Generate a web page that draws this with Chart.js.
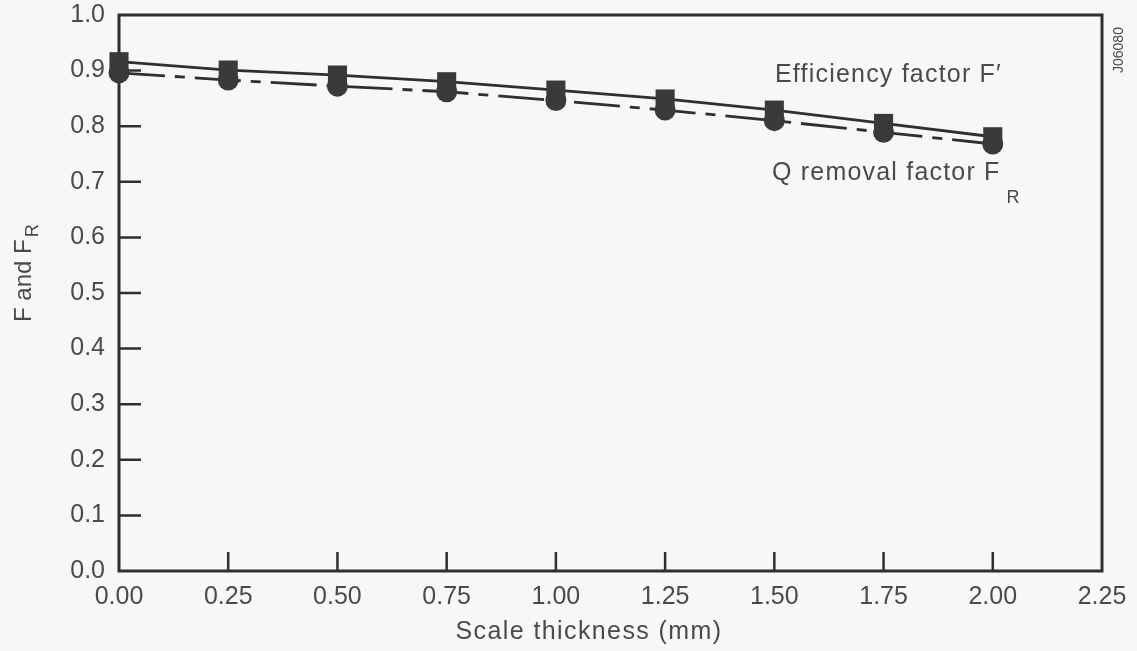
<!DOCTYPE html>
<html>
<head>
<meta charset="utf-8">
<script src="https://cdn.jsdelivr.net/npm/chart.js@4/dist/chart.umd.min.js"></script>
<style>
    html, body { margin: 0; padding: 0; background: #f7f7f5; }
    #wrap { width: 1137px; height: 651px; }
</style>
</head>
<body>
<div id="wrap"><canvas id="scaleChart" width="1137" height="651"></canvas></div>
<script>
// scale thickness (mm) and the two factors
const thickness = [0.00, 0.25, 0.50, 0.75, 1.00, 1.25, 1.50, 1.75, 2.00];
const efficiencyF = [0.916, 0.901, 0.892, 0.880, 0.865, 0.849, 0.829, 0.805, 0.781];
const removalFR = [0.896, 0.883, 0.872, 0.862, 0.846, 0.829, 0.810, 0.789, 0.768];

// inward tick marks
const xTickValues = [0.25, 0.50, 0.75, 1.00, 1.25, 1.50, 1.75, 2.00];
const yTickValues = [0.1, 0.2, 0.3, 0.4, 0.5, 0.6, 0.7, 0.8, 0.9];

const INK = '#2f2f2f';
const TEXT = '#4a4a4a';
const FONT = '"Liberation Sans", Arial, Helvetica, sans-serif';

function toPoints(xs, ys) {
    return xs.map((x, i) => ({x: x, y: ys[i]}));
}

const framePlugin = {
    id: 'frame',
    beforeDatasetsDraw(chart) {
        const ctx = chart.ctx;
        const area = chart.chartArea;
        const xs = chart.scales.x;
        const ys = chart.scales.y;
        ctx.save();
        ctx.strokeStyle = INK;
        ctx.lineWidth = 3;
        ctx.strokeRect(area.left, area.top, area.right - area.left, area.bottom - area.top);
        ctx.lineWidth = 2.5;
        ctx.beginPath();
        xTickValues.forEach((v) => {
            const px = xs.getPixelForValue(v);
            ctx.moveTo(px, area.bottom);
            ctx.lineTo(px, area.bottom - 19);
        });
        yTickValues.forEach((v) => {
            const py = ys.getPixelForValue(v);
            ctx.moveTo(area.left, py);
            ctx.lineTo(area.left + 22, py);
        });
        ctx.stroke();
        ctx.restore();
    },
    afterDraw(chart) {
        const ctx = chart.ctx;
        ctx.save();
        ctx.fillStyle = TEXT;
        ctx.textBaseline = 'alphabetic';

        // curve labels
        ctx.font = '25px ' + FONT;
        ctx.letterSpacing = '1.2px';
        ctx.textAlign = 'left';
        ctx.fillText('Efficiency factor F\u2032', 775, 82);
        const qText = 'Q removal factor F';
        ctx.fillText(qText, 772, 180);
        const qWidth = ctx.measureText(qText).width;
        ctx.font = '18px ' + FONT;
        ctx.letterSpacing = '0px';
        ctx.fillText('R', 772 + qWidth + 6, 203);

        // x title
        ctx.font = '25px ' + FONT;
        ctx.letterSpacing = '1.4px';
        ctx.textAlign = 'center';
        ctx.fillText('Scale thickness (mm)', 589, 639);

        // y title, rotated
        ctx.letterSpacing = '0px';
        ctx.save();
        ctx.translate(31, 322);
        ctx.rotate(-Math.PI / 2);
        ctx.textAlign = 'left';
        ctx.font = '24px ' + FONT;
        const yText = 'F and F';
        ctx.fillText(yText, 0, 0);
        const yWidth = ctx.measureText(yText).width;
        ctx.font = '18px ' + FONT;
        ctx.fillText('R', yWidth + 2, 7);
        ctx.restore();

        // figure number in the margin
        ctx.save();
        ctx.translate(1123, 73);
        ctx.rotate(-Math.PI / 2);
        ctx.textAlign = 'left';
        ctx.font = '14px ' + FONT;
        ctx.fillText('J06080', 0, 0);
        ctx.restore();

        ctx.restore();
    }
};

function setupChart() {
    const ctx = document.getElementById('scaleChart');
    const data = {
        datasets: [{
            label: "Efficiency factor F'",
            data: toPoints(thickness, efficiencyF),
            borderColor: INK,
            borderWidth: 2.8,
            backgroundColor: '#3a3a3a',
            pointStyle: 'rect',
            pointRadius: 13.5,
            pointBorderWidth: 0,
            pointBackgroundColor: '#3a3a3a',
            showLine: true,
            clip: false,
            order: 2
        }, {
            label: 'Q removal factor FR',
            data: toPoints(thickness, removalFR),
            borderColor: INK,
            borderWidth: 2.8,
            borderDash: [46, 10, 10, 10],
            backgroundColor: '#3a3a3a',
            pointStyle: 'circle',
            pointRadius: 10.5,
            pointBorderWidth: 0,
            pointBackgroundColor: '#3a3a3a',
            showLine: true,
            clip: false,
            order: 1
        }]
    };
    return new Chart(ctx, {
        type: 'scatter',
        data: data,
        options: {
            responsive: false,
            animation: false,
            layout: {
                autoPadding: false,
                padding: {left: 0, top: 15, right: 35, bottom: 0}
            },
            plugins: {
                legend: {display: false},
                tooltip: {enabled: false}
            },
            scales: {
                x: {
                    type: 'linear',
                    min: 0,
                    max: 2.25,
                    grid: {display: false, drawTicks: false},
                    border: {display: false},
                    afterFit: (scale) => {
                        scale.height = 80;
                        scale.paddingLeft = 0;
                        scale.paddingRight = 0;
                    },
                    ticks: {
                        stepSize: 0.25,
                        padding: 11,
                        color: TEXT,
                        maxRotation: 0,
                        font: {family: FONT, size: 25},
                        callback: (v) => Number(v).toFixed(2)
                    }
                },
                y: {
                    type: 'linear',
                    min: 0,
                    max: 1,
                    grid: {display: false, drawTicks: false},
                    border: {display: false},
                    afterFit: (scale) => {
                        scale.width = 119;
                        scale.paddingTop = 0;
                        scale.paddingBottom = 0;
                    },
                    ticks: {
                        stepSize: 0.1,
                        padding: 14,
                        color: TEXT,
                        font: {family: FONT, size: 25},
                        callback: (v) => Number(v).toFixed(1)
                    }
                }
            }
        },
        plugins: [framePlugin]
    });
}

function main() {
    setupChart();
}

main();
</script>
</body>
</html>
